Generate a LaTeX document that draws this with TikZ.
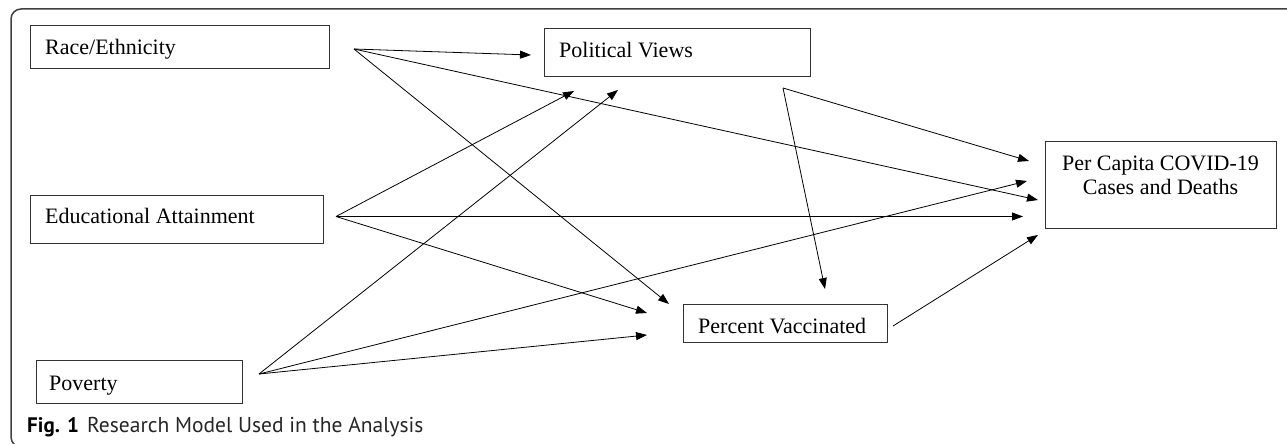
\documentclass[tikz,border=0pt]{standalone}
\usepackage{fontspec}
\setmainfont{Liberation Serif}
\newfontfamily\capfont{PT Sans}
\usetikzlibrary{arrows.meta}
\begin{document}
\begin{tikzpicture}[x=1pt,y=-1pt,
  box/.style={draw=black!80, line width=1pt, inner sep=0pt, anchor=north west},
  lbl/.style={anchor=base west, inner sep=0pt, font=\fontsize{22}{24}\selectfont},
  clbl/.style={anchor=base, inner sep=0pt, font=\fontsize{22}{24}\selectfont},
  arr/.style={draw=black, line width=0.8pt, -{Triangle[length=11pt,width=8pt]}},
  framestyle/.style={draw=black!75, line width=1.5pt, rounded corners=10pt},
  captxt/.style={anchor=base west, inner sep=0pt, text=black!85, font=\capfont\fontsize{21.5}{24}\selectfont}]
\useasboundingbox (0,0) rectangle (1287,444);
\draw[framestyle] (300,447) -- (11,447) -- (11,9) -- (1300,9);

% boxes
\node[box, minimum width=299pt, minimum height=43pt] (race) at (30,25) {};
\node[box, minimum width=266pt, minimum height=48pt] (pol) at (544,28) {};
\node[box, minimum width=231pt, minimum height=87pt] (pc) at (1045,141) {};
\node[box, minimum width=293pt, minimum height=48pt] (edu) at (30,195) {};
\node[box, minimum width=206pt, minimum height=43pt] (pov) at (36,360) {};
\node[box, minimum width=204pt, minimum height=38pt] (pv) at (683,304) {};

% labels
\node[lbl] (raceT) at (45,55) {Race/Ethnicity};
\node[lbl] (polT) at (559,57) {Political Views};
\node[lbl] (eduT) at (45,223) {Educational Attainment};
\node[lbl] (povT) at (49,390) {Poverty};
\node[lbl] (pvT) at (698,333) {Percent Vaccinated};
\node[clbl] (pcT1) at (1160.5,170) {Per Capita COVID-19};
\node[clbl] (pcT2) at (1160.5,194) {Cases and Deaths};

% caption
\node[captxt, text=black, font=\capfont\fontsize{21}{22}\bfseries] (figT) at (27,432) {Fig. 1};
\node[captxt] (capT) at (87,432) {Research Model Used in the Analysis};

% connector ends
\coordinate (raceOut) at (354,49);
\coordinate (eduOut) at (336,216.5);
\coordinate (povOut) at (259,374);
\coordinate (polOut) at (783,88);
\coordinate (pvOut) at (893,326);
\coordinate (polInRace) at (531,55);
\coordinate (polInEdu) at (574,91);
\coordinate (polInPov) at (618,90);
\coordinate (pvInRace) at (669,304);
\coordinate (pvInPol) at (825,289);
\coordinate (pvInEdu) at (647,313);
\coordinate (pvInPov) at (647,335);
\coordinate (pcInPol) at (1029,161);
\coordinate (pcInPov) at (1027,181);
\coordinate (pcInRace) at (1038,200);
\coordinate (pcInEdu) at (1023,216.5);
\coordinate (pcInPV) at (1038,235);

% connectors
\draw[arr] (raceOut) -- (polInRace);
\draw[arr] (raceOut) -- (pvInRace);
\draw[arr] (raceOut) -- (pcInRace);
\draw[arr] (eduOut) -- (polInEdu);
\draw[arr] (eduOut) -- (pcInEdu);
\draw[arr] (eduOut) -- (pvInEdu);
\draw[arr] (povOut) -- (polInPov);
\draw[arr] (povOut) -- (pcInPov);
\draw[arr] (povOut) -- (pvInPov);
\draw[arr] (polOut) -- (pcInPol);
\draw[arr] (polOut) -- (pvInPol);
\draw[arr] (pvOut) -- (pcInPV);
\end{tikzpicture}
\end{document}
